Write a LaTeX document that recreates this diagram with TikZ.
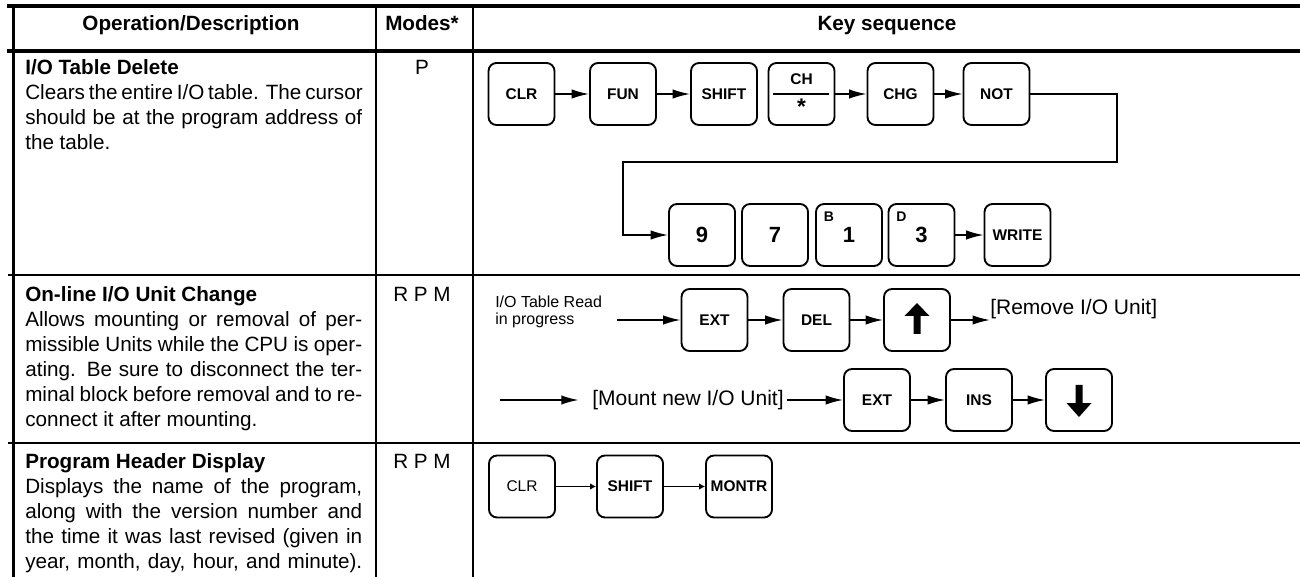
\documentclass[tikz,border=0pt]{standalone}
\usepackage{fontspec}
\setmainfont{Liberation Sans}
\usetikzlibrary{arrows.meta}

% one justified line of a description paragraph
\newcommand{\jline}[1]{\makebox[\linewidth][s]{#1}}

\begin{document}
\begin{tikzpicture}[x=0.75pt,y=-0.75pt,
  key/.style={draw, line width=1.4pt, rounded corners=6pt,
    minimum width=49.5pt, minimum height=46.5pt, inner sep=0pt,
    font=\bfseries\fontsize{11.6}{13}\selectfont},
  digitkey/.style={key, font=\bfseries\fontsize{16.5}{19}\selectfont},
  keytag/.style={inner sep=0pt, font=\bfseries\fontsize{10.5}{12}\selectfont},
  keylabel/.style={inner sep=0pt, font=\bfseries\fontsize{11.6}{13}\selectfont},
  seq/.style={line width=1.2pt, -{Latex[length=13pt,width=7pt]}},
  seqsmall/.style={line width=1.2pt, -{Latex[length=4.5pt,width=5pt]}},
  link/.style={line width=1.2pt},
  thinrule/.style={line width=1.1pt},
  heavyrule/.style={line width=3pt},
  colhead/.style={inner sep=0pt, anchor=base, font=\bfseries\fontsize{15.5}{18}\selectfont},
  desc/.style={inner sep=0pt, anchor=base west, font=\fontsize{15.5}{18.75}\selectfont},
  mode/.style={inner sep=0pt, anchor=base, font=\fontsize{15.5}{18}\selectfont},
  note/.style={inner sep=0pt, font=\fontsize{15.75}{18}\selectfont},
  smallnote/.style={inner sep=0pt, anchor=base west, font=\fontsize{12}{12.75}\selectfont},
]
\useasboundingbox (0,0) rectangle (1300,577);

% ---- table rules ----
\draw[heavyrule] (7,6) -- (1300,6);
\draw[heavyrule] (7,51) -- (1300,51);
\draw[line width=2.8pt] (13.5,4.5) -- (13.5,577);
\draw[thinrule] (8,275) -- (1300,275);
\draw[thinrule] (8,443) -- (1300,443);
\draw[thinrule] (376,6) -- (376,577);
\draw[thinrule] (473,6) -- (473,577);

% ---- column heads ----
\node[colhead] (hop) at (191,31) {Operation/Description};
\node[colhead] (hmode) at (422,31) {Modes*};
\node[colhead] (hkey) at (887,31) {Key sequence};

% ---- descriptions ----
\node[desc] (d1) at (25,75) {\parbox[t]{252.75pt}{%
  \textbf{I/O Table Delete}\\
  \jline{Clears the entire I/O table. The cursor}\\
  \jline{should be at the program address of}\\
  the table.}};
\node[desc] (d2) at (25,302) {\parbox[t]{252.75pt}{%
  \textbf{On-line I/O Unit Change}\\
  \jline{Allows mounting or removal of per-}\\
  \jline{missible Units while the CPU is oper-}\\
  \jline{ating. Be sure to disconnect the ter-}\\
  \jline{minal block before removal and to re-}\\
  connect it after mounting.}};
\node[desc] (d3) at (25,468) {\parbox[t]{252.75pt}{%
  \textbf{Program Header Display}\\
  \jline{Displays the name of the program,}\\
  \jline{along with the version number and}\\
  \jline{the time it was last revised (given in}\\
  \jline{year, month, day, hour, and minute).}}};

% ---- modes ----
\node[mode] (m1) at (422,75) {P};
\node[mode] (m2) at (422,302) {R P M};
\node[mode] (m3) at (422,468) {R P M};

% ---- I/O Table Delete ----
\node[key] (clr) at (521.5,94) {CLR};
\node[key] (fun) at (623,94) {FUN};
\node[key] (shift) at (724,94) {SHIFT};
\node[key] (ch) at (801.5,94) {};
\node[keylabel] (chname) at (801.5,79) {CH};
\node[keylabel, font=\bfseries\fontsize{17}{19}\selectfont] (chstar) at (801.5,107) {*};
\draw[link] (773,94) -- (829,94);
\node[key] (chg) at (900.5,94) {CHG};
\node[key] (not) at (996.5,94) {NOT};

\node[digitkey] (nine) at (702,235) {9};
\node[digitkey] (seven) at (775,235) {7};
\node[digitkey] (one) at (849,235) {1};
\node[keytag] (tagb) at (829,217) {B};
\node[digitkey] (three) at (921.5,235) {3};
\node[keytag] (tagd) at (901.5,217) {D};
\node[key] (write) at (1017.5,235) {WRITE};

\draw[seq] (clr) -- (fun);
\draw[seq] (fun) -- (shift);
\draw[seq] (ch) -- (chg);
\draw[seq] (chg) -- (not);
\coordinate (turnA) at (1117,162);
\coordinate (turnB) at (623,162);
\draw[seq] (not.east) -| (turnA) -- (turnB) |- (nine.west);
\draw[seq] (three) -- (write);

% ---- On-line I/O Unit Change ----
\node[smallnote] (readnote) at (495,308) {\parbox[t]{120pt}{I/O Table Read\\in progress}};
\coordinate (feedA) at (617,320);
\node[key] (ext) at (714.5,320) {EXT};
\node[key] (del) at (816.5,320) {DEL};
\node[key] (up) at (917,320) {};
\fill (917,303) -- (929.5,316) -- (920.5,316) -- (920.5,334)
      -- (913.5,334) -- (913.5,316) -- (904.5,316) -- cycle;
\node[note, anchor=base west] (remove) at (990,315) {[Remove I/O Unit]};
\draw[seq] (feedA) -- (ext.west);
\draw[seq] (ext) -- (del);
\draw[seq] (del) -- (up);
\draw[seq] (up.east) -- (up.east -| remove.west);

\coordinate (feedB) at (500,400);
\node[note, anchor=west] (mount) at (592,400) {[Mount new I/O Unit]};
\node[key] (ext2) at (877,400) {EXT};
\node[key] (ins) at (979,400) {INS};
\node[key] (down) at (1079,400) {};
\fill (1075.5,385) -- (1082.5,385) -- (1082.5,403) -- (1091.5,403)
      -- (1079,417) -- (1066.5,403) -- (1075.5,403) -- cycle;
\draw[seq, shorten >=10pt] (feedB) -- (mount.west);
\draw[seq] ([xshift=2pt]mount.east) -- (ext2.west);
\draw[seq] (ext2) -- (ins);
\draw[seq] (ins) -- (down);

% ---- Program Header Display ----
\node[key, font=\fontsize{11.6}{13}\selectfont] (clr3) at (522,486.5) {CLR};
\node[key] (shift3) at (630,486.5) {SHIFT};
\node[key] (montr) at (739,486.5) {MONTR};
\draw[seqsmall] (clr3) -- (shift3);
\draw[seqsmall] (shift3) -- (montr);

\end{tikzpicture}
\end{document}
